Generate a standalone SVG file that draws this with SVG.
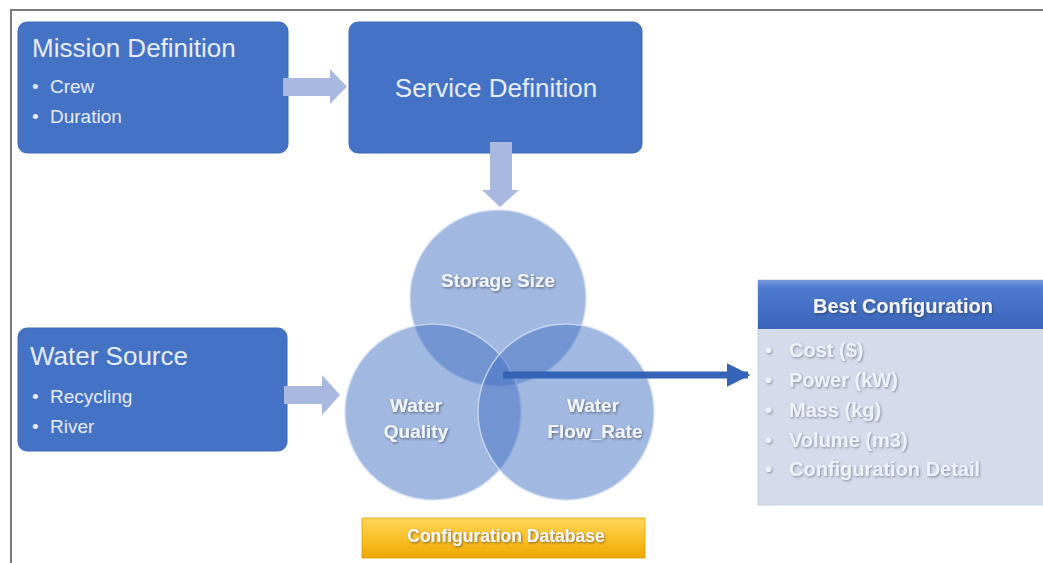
<svg xmlns="http://www.w3.org/2000/svg" width="1043" height="563" viewBox="0 0 1043 563">
  <defs>
    <style>
      .box { fill: #4472c4; stroke: #3f6bbb; stroke-width: 1; }
      .ttl { font-family: "Liberation Sans", Arial, sans-serif; font-size: 26px; fill: #e6ecf8; }
      .bul { font-family: "Liberation Sans", Arial, sans-serif; font-size: 19px; fill: #e6ecf8; }
      .fat { fill: #a8b8de; }
      .venn { fill: #4472c4; fill-opacity: 0.5; stroke: #d3ddf1; stroke-width: 1.5; stroke-opacity: 0.8; }
      .lbl { font-family: "Liberation Sans", Arial, sans-serif; font-size: 19px; font-weight: bold; fill: #f3f6fc; text-anchor: middle; }
      .item { font-family: "Liberation Sans", Arial, sans-serif; font-size: 20px; font-weight: bold; fill: #eef1f7; }
    </style>
    <filter id="shadow" x="-10%" y="-30%" width="120%" height="160%">
      <feDropShadow dx="1" dy="1.2" stdDeviation="0.8" flood-color="#2a2a2a" flood-opacity="0.55"/>
    </filter>
    <filter id="soft" x="-10%" y="-30%" width="120%" height="160%">
      <feDropShadow dx="1" dy="1.2" stdDeviation="1" flood-color="#6b7080" flood-opacity="0.7"/>
    </filter>
    <linearGradient id="gold" x1="0" y1="0" x2="0" y2="1">
      <stop offset="0" stop-color="#ffd65a"/>
      <stop offset="0.5" stop-color="#fbc12a"/>
      <stop offset="1" stop-color="#eea600"/>
    </linearGradient>
    <linearGradient id="head" x1="0" y1="0" x2="0" y2="1">
      <stop offset="0" stop-color="#7a9be0"/>
      <stop offset="0.15" stop-color="#4f7bcf"/>
      <stop offset="1" stop-color="#3a64ba"/>
    </linearGradient>
    <marker id="tip" viewBox="0 0 10 10" refX="9" refY="5" markerWidth="3.4" markerHeight="3.4" orient="auto" markerUnits="strokeWidth">
      <path d="M0,0 L10,5 L0,10 Z" fill="#3563b7"/>
    </marker>
  </defs>

  <rect width="1043" height="563" fill="#ffffff"/>
  <!-- frame -->
  <path d="M11,563 V10 H1043" fill="none" stroke="#7a7a7a" stroke-width="2"/>

  <g id="mission-definition">
    <rect class="box" x="18" y="22" width="270" height="131" rx="9"/>
    <text class="ttl" x="32" y="57">Mission Definition</text>
    <text class="bul" x="32" y="93">•</text>
    <text class="bul" x="50" y="93">Crew</text>
    <text class="bul" x="32" y="123">•</text>
    <text class="bul" x="50" y="123">Duration</text>
  </g>

  <g id="service-definition">
    <rect class="box" x="349" y="22" width="293" height="131" rx="9"/>
    <text class="ttl" x="496" y="97" text-anchor="middle">Service Definition</text>
  </g>

  <g id="water-source">
    <rect class="box" x="18" y="328" width="269" height="123" rx="9"/>
    <text class="ttl" x="30" y="365">Water Source</text>
    <text class="bul" x="32" y="403">•</text>
    <text class="bul" x="50" y="403">Recycling</text>
    <text class="bul" x="32" y="433">•</text>
    <text class="bul" x="50" y="433">River</text>
  </g>

  <g id="parameter-venn">
    <circle class="venn" cx="498" cy="298" r="88"/>
    <circle class="venn" cx="433" cy="412" r="88"/>
    <circle class="venn" cx="566" cy="412" r="88"/>
    <g filter="url(#shadow)">
      <text class="lbl" x="498" y="287">Storage Size</text>
      <text class="lbl" x="416" y="412">Water</text>
      <text class="lbl" x="416" y="438">Quality</text>
      <text class="lbl" x="593" y="412">Water</text>
      <text class="lbl" x="595" y="438">Flow_Rate</text>
    </g>
  </g>

  <g id="configuration-database">
    <rect x="362" y="518" width="283" height="40" fill="url(#gold)" stroke="#e0a100" stroke-width="0.8"/>
    <text class="lbl" x="506" y="542" filter="url(#shadow)" style="font-size:17.5px">Configuration Database</text>
  </g>

  <g id="best-configuration">
    <rect x="758" y="280" width="290" height="225" fill="#d5dbea" stroke="#c6cedf" stroke-width="1"/>
    <rect x="758" y="280" width="290" height="49" fill="url(#head)"/>
    <text class="lbl" x="903" y="313" style="font-size:20px" filter="url(#shadow)">Best Configuration</text>
    <g filter="url(#soft)">
      <text class="item" x="765" y="357">•</text>
      <text class="item" x="789" y="357">Cost ($)</text>
      <text class="item" x="765" y="387">•</text>
      <text class="item" x="789" y="387">Power (kW)</text>
      <text class="item" x="765" y="417">•</text>
      <text class="item" x="789" y="417">Mass (kg)</text>
      <text class="item" x="765" y="447">•</text>
      <text class="item" x="789" y="447">Volume (m3)</text>
      <text class="item" x="765" y="476">•</text>
      <text class="item" x="789" y="476">Configuration Detail</text>
    </g>
  </g>

  <g id="connectors">
    <!-- block arrows -->
    <path class="fat" d="M283,78 H330 V69 L347,86.5 L330,104 V96 H283 Z"/>
    <path class="fat" d="M490,142 H512 V190 H519 L500,207 L482,190 H490 Z"/>
    <path class="fat" d="M284,386 H322 V375 L340,395 L322,415 V404 H284 Z"/>
    <!-- result arrow -->
    <line x1="503" y1="375" x2="748" y2="375" stroke="#3563b7" stroke-width="7" marker-end="url(#tip)"/>
  </g>
</svg>
